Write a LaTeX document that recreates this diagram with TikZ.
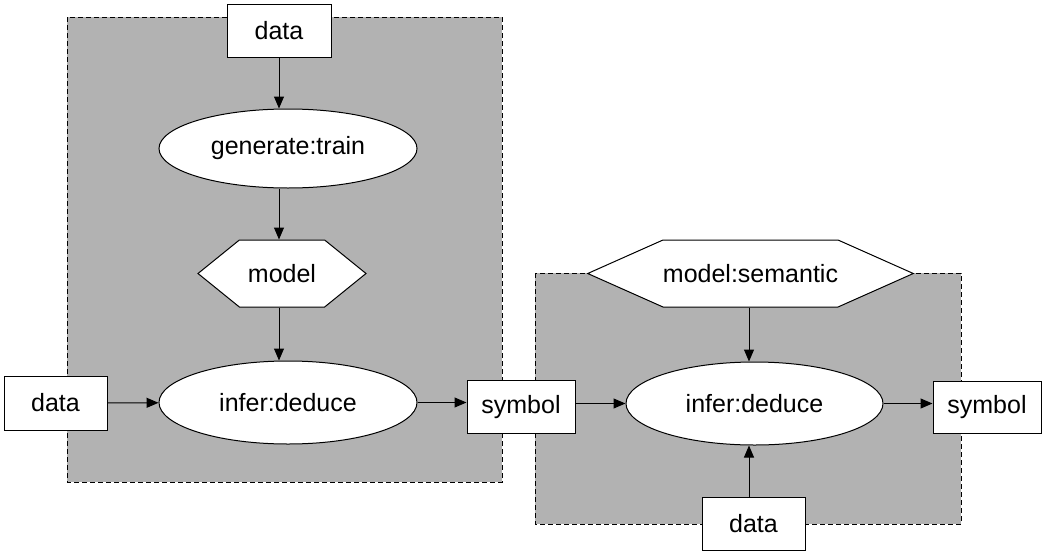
\documentclass[tikz,border=0pt]{standalone}
\usepackage{fontspec,tikz}
\usetikzlibrary{shapes.geometric,shapes.symbols,arrows.meta}
\setmainfont{Liberation Sans}

\tikzset{
  area/.style={draw,fill=black!30,line width=0.9pt,dash pattern=on 5pt off 3pt},
  box/.style={draw,fill=white,line width=1pt,inner sep=0pt,font=\fontsize{25.0}{30.0}\selectfont},
  oval/.style={box,ellipse},
  hex/.style={box,signal,signal to=west and east},
  arr/.style={line width=1pt,-{Triangle[length=12pt,width=10pt]}}
}

\begin{document}
\begin{tikzpicture}[x=1pt,y=-1pt]
\path[use as bounding box] (0,0) rectangle (1049.0,554.0);
% grey areas
\draw[area] (67,17) rectangle (502,482);
\draw[area] (535,273) rectangle (961,524);
% left part
\node[box,minimum width=104,minimum height=53] (dataTop) at (279,30.5) {data};
\node[oval,minimum width=258,minimum height=79] (train) at (288,148.5) {generate:train};
\node[hex,signal pointer angle=78,minimum width=168,minimum height=67] (model) at (282,273.5) {model};
\node[oval,minimum width=258,minimum height=83] (deduceL) at (288,402.5) {infer:deduce};
\node[box,minimum width=103,minimum height=54] (dataLeft) at (55.5,403) {data};
\node[box,minimum width=108,minimum height=53] (symMid) at (521,407) {symbol};
% right part
\node[hex,signal pointer angle=48,minimum width=325,minimum height=67] (semantic) at (750.5,273.5) {model:semantic};
\node[oval,minimum width=257,minimum height=83] (deduceR) at (754.5,403.5) {infer:deduce};
\node[box,minimum width=103,minimum height=53] (dataBot) at (753.5,523.5) {data};
\node[box,minimum width=108,minimum height=52] (symRight) at (987,407) {symbol};
% arrows
\draw[arr] (dataTop) -- (dataTop |- train.north);
\draw[arr] (train.south -| dataTop) -- (model.north -| dataTop);
\draw[arr] (model.south -| dataTop) -- (deduceL.north -| dataTop);
\draw[arr] (dataLeft) -- (deduceL);
\draw[arr] (deduceL.east) -- (deduceL.east -| symMid.west);
\draw[arr] (deduceR.west -| symMid.east) -- (deduceR.west);
\draw[arr] (deduceR.east) -- (deduceR.east -| symRight.west);
\draw[arr] (semantic.south -| 749,0) -- (deduceR.north -| 749,0);
\draw[arr] (dataBot.north -| 749,0) -- (deduceR.south -| 749,0);
\end{tikzpicture}
\end{document}
